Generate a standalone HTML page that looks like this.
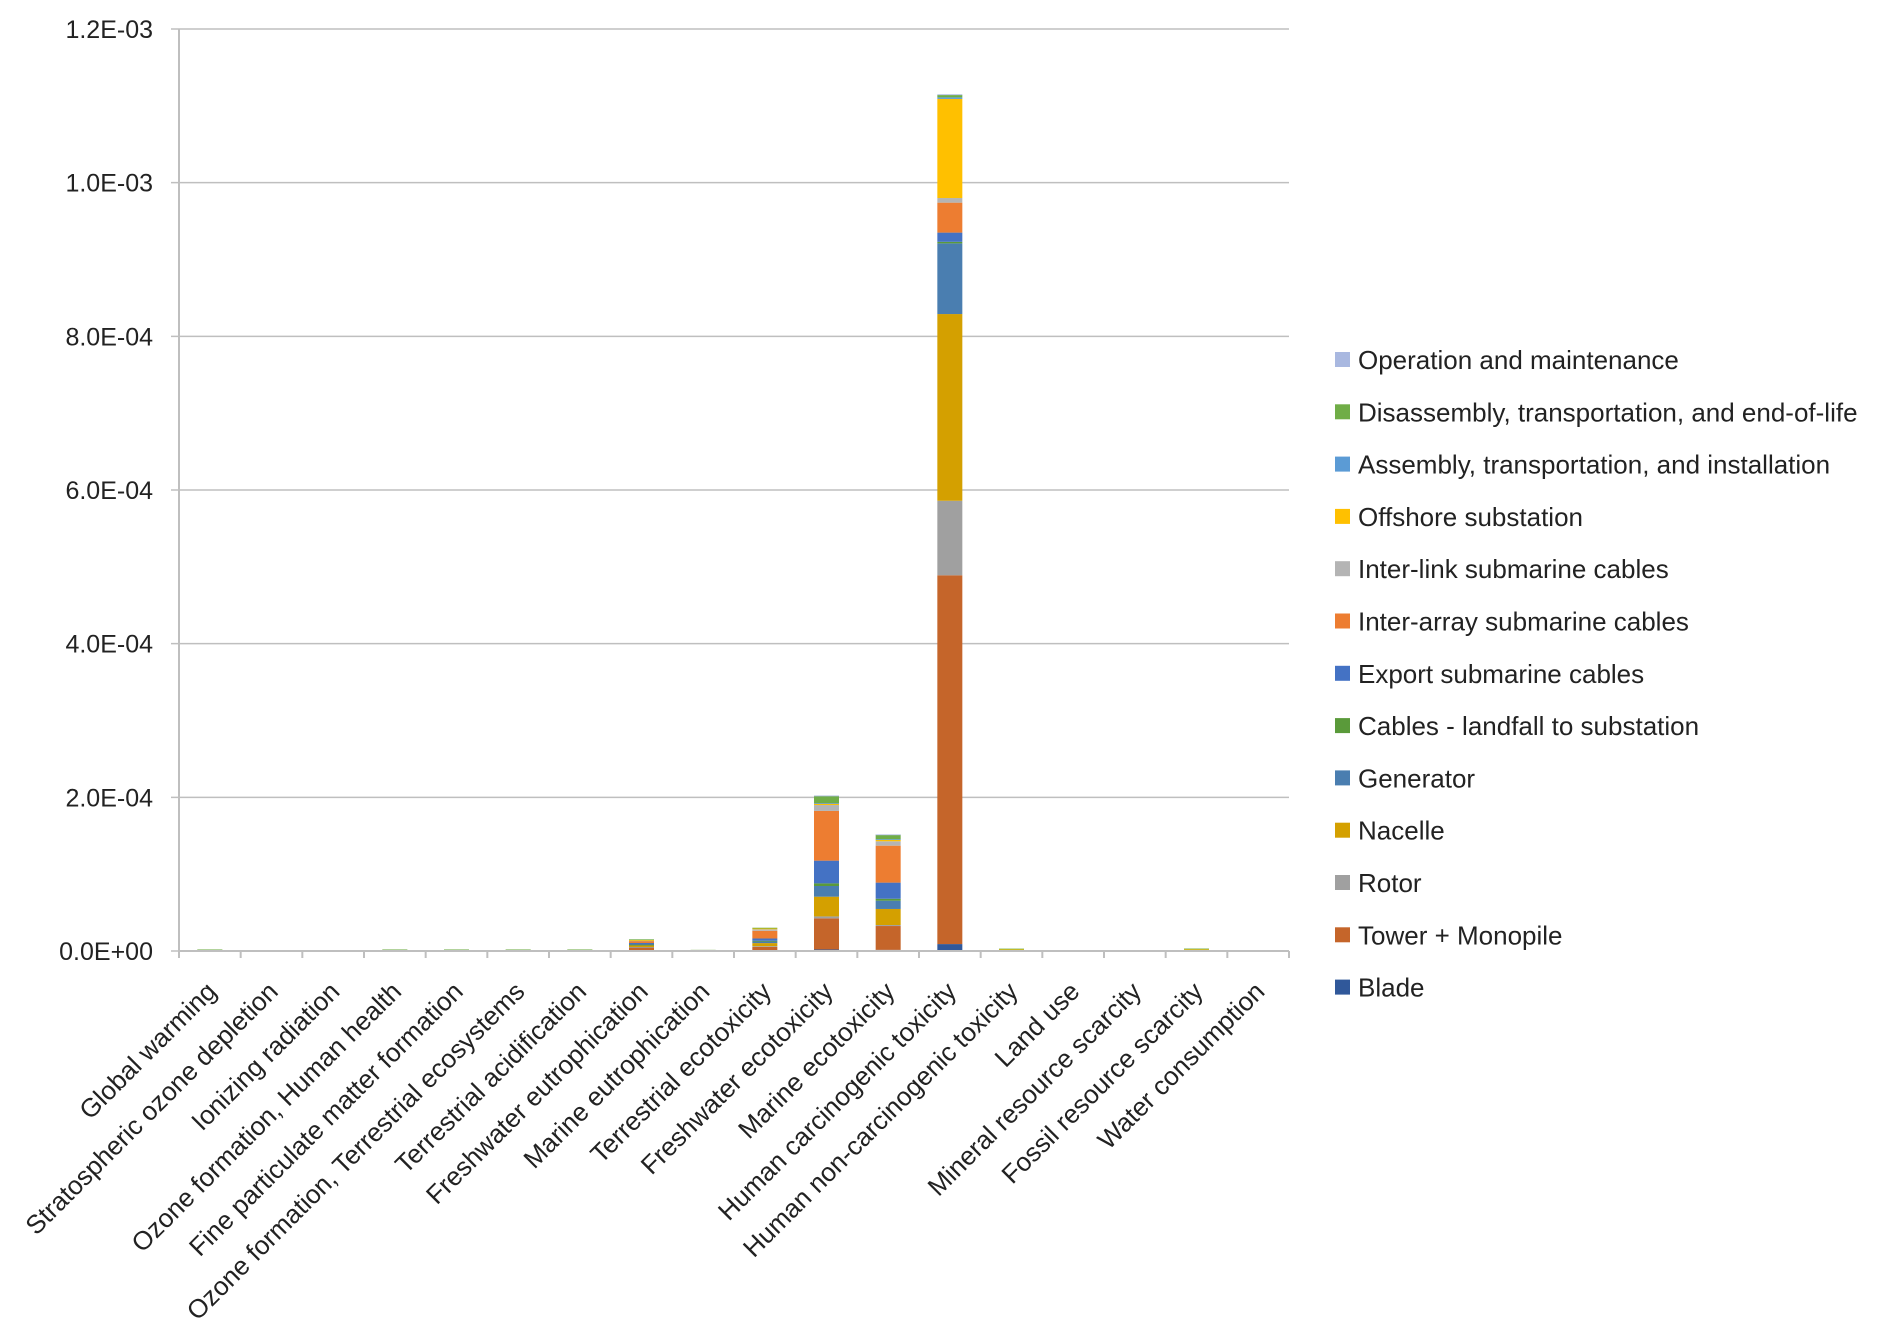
<!DOCTYPE html>
<html><head><meta charset="utf-8"><style>
html,body{margin:0;padding:0;background:#fff;}
svg{display:block;font-family:"Liberation Sans",sans-serif;}
</style></head><body>
<svg id="chart" width="1892" height="1341"></svg>
<script>
const categories=["Global warming","Stratospheric ozone depletion","Ionizing radiation","Ozone formation, Human health","Fine particulate matter formation","Ozone formation, Terrestrial ecosystems","Terrestrial acidification","Freshwater eutrophication","Marine eutrophication","Terrestrial ecotoxicity","Freshwater ecotoxicity","Marine ecotoxicity","Human carcinogenic toxicity","Human non-carcinogenic toxicity","Land use","Mineral resource scarcity","Fossil resource scarcity","Water consumption"];
const seriesNames=["Blade","Tower + Monopile","Rotor","Nacelle","Generator","Cables - landfall to substation","Export submarine cables","Inter-array submarine cables","Inter-link submarine cables","Offshore substation","Assembly, transportation, and installation","Disassembly, transportation, and end-of-life","Operation and maintenance"];
const seriesColors=["#30589a","#c5652a","#a0a0a0","#d4a000","#4a7eb0","#5a9a3a","#4472c4","#ed7d31","#b4b4b4","#ffc000","#5b9bd5","#70ad47","#a9b8e0"];
// values in units of 1e-4
const blade=[0,0,0,0,0,0,0,0.002,0,0.003,0.02,0.015,0.09,0,0,0,0,0];
const tower=[0.004,0,0.003,0.004,0.004,0.004,0.004,0.045,0.003,0.05,0.405,0.31,4.8,0.005,0,0,0.005,0];
const rotor=[0.001,0,0.001,0.001,0.001,0.001,0.001,0.005,0,0.01,0.025,0.013,0.97,0.001,0,0,0.001,0];
const nacelle=[0.003,0,0.002,0.003,0.003,0.003,0.003,0.02,0.002,0.04,0.257,0.209,2.43,0.004,0,0,0.004,0];
const generator=[0.001,0,0.001,0.001,0.001,0.001,0.001,0.01,0.001,0.02,0.139,0.108,0.92,0.002,0,0,0.002,0];
const landfall=[0,0,0,0,0,0,0,0.002,0,0.01,0.034,0.025,0.02,0,0,0,0,0];
const exportC=[0.001,0,0.001,0.001,0.001,0.001,0.001,0.02,0.001,0.03,0.296,0.21,0.12,0.002,0,0,0.002,0];
const interArray=[0.003,0,0.002,0.003,0.003,0.003,0.003,0.03,0.003,0.1,0.647,0.481,0.39,0.005,0,0,0.006,0];
const interLink=[0.001,0,0,0.001,0.001,0.001,0.001,0.003,0,0.02,0.077,0.057,0.06,0.001,0,0,0.001,0];
const offshore=[0.002,0,0.001,0.002,0.002,0.002,0.002,0.005,0.001,0.01,0.02,0.022,1.29,0.003,0,0,0.003,0];
const assembly=[0,0,0,0,0,0,0,0,0,0,0.005,0.005,0.02,0,0,0,0,0];
const disassembly=[0.004,0,0.001,0.004,0.004,0.004,0.004,0.01,0.004,0.01,0.095,0.06,0.03,0.008,0,0,0.008,0];
const om=[0,0,0,0,0,0,0,0,0,0,0.003,0.002,0.01,0,0,0,0,0];
const seriesValues=[blade,tower,rotor,nacelle,generator,landfall,exportC,interArray,interLink,offshore,assembly,disassembly,om];
const yTicks=[0,2,4,6,8,10,12];
const yTickLabels=["0.0E+00","2.0E-04","4.0E-04","6.0E-04","8.0E-04","1.0E-03","1.2E-03"];

const NS="http://www.w3.org/2000/svg";
const svg=document.getElementById('chart');
const L=179,R=1289,T=29,B=951,yMax=12;
const n=categories.length,band=(R-L)/n,barW=25;
const y=v=>B-(v/yMax)*(B-T);
const xc=i=>L+band*(i+0.5);
function mk(tag,attrs){const e=document.createElementNS(NS,tag);for(const k in attrs)e.setAttribute(k,attrs[k]);svg.appendChild(e);return e;}
yTicks.forEach((t,i)=>{
  const g=mk('line',{x1:L-8,x2:R,y1:y(t),y2:y(t),stroke:'#bfbfbf','stroke-width':1.5});
  
  
  const tx=mk('text',{x:L-26,y:y(t)+9,'text-anchor':'end','font-size':25,fill:'#222'});
  tx.textContent=yTickLabels[i];
  
  
});
const ya=mk('line',{x1:L,x2:L,y1:T,y2:B,stroke:'#bfbfbf','stroke-width':2});


for(let i=0;i<=n;i++){
  const tk=mk('line',{x1:L+band*i,x2:L+band*i,y1:B,y2:B+7,stroke:'#bfbfbf','stroke-width':2});
  
  
}
categories.forEach((c,i)=>{
  let acc=0;
  seriesValues.forEach((arr,s)=>{
    const v=arr[i];if(v<=0)return;
    const r=mk('rect',{x:xc(i)-barW/2,y:y(acc+v),width:barW,height:Math.max(y(acc)-y(acc+v),0.8),fill:seriesColors[s]});
    
    
    acc+=v;
  });
  const ex=xc(i)+8,ey=B+42;
  const t=mk('text',{x:ex,y:ey,'text-anchor':'end','font-size':26,fill:'#222',transform:`rotate(-45 ${ex} ${ey})`});
  t.textContent=c;
  
  
});
const xa=mk('line',{x1:L,x2:R,y1:B,y2:B,stroke:'#bfbfbf','stroke-width':2});


for(let k=0;k<seriesNames.length;k++){
  const s=seriesNames.length-1-k;
  const ly=360+k*52.3;
  const sq=mk('rect',{x:1335,y:ly-8,width:15,height:15,fill:seriesColors[s]});
  
  
  const lt=mk('text',{x:1358,y:ly+9,'font-size':26,fill:'#222'});
  lt.textContent=seriesNames[s];
  
  
}
</script>
</body></html>
